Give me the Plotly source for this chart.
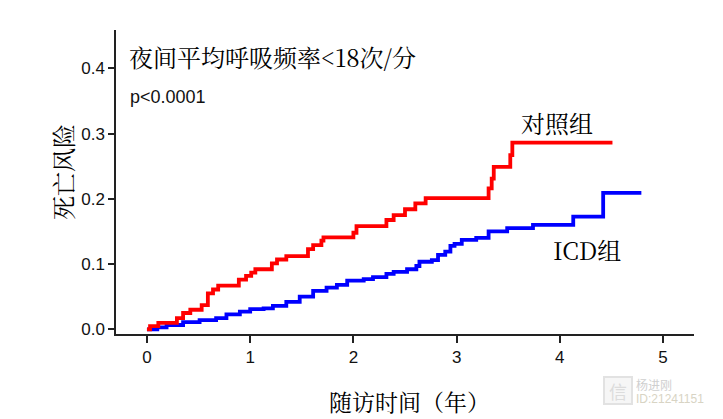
import plotly.graph_objects as go

# Control group (对照组) cumulative death risk, step function
red_t = [0, 0.03, 0.11, 0.29, 0.35, 0.42, 0.53, 0.59, 0.64, 0.69, 0.89, 0.96, 1.01, 1.05,
         1.21, 1.26, 1.35, 1.56, 1.61, 1.69, 1.71, 2.00, 2.03, 2.32, 2.39, 2.50, 2.60, 2.70,
         3.31, 3.34, 3.36, 3.52, 3.54, 4.51]
red_v = [0, 0.005, 0.010, 0.017, 0.025, 0.030, 0.037, 0.055, 0.061, 0.067, 0.076, 0.082, 0.087,
         0.092, 0.101, 0.107, 0.112, 0.123, 0.129, 0.136, 0.141, 0.148, 0.158, 0.1675, 0.175,
         0.184, 0.193, 0.201, 0.216, 0.231, 0.249, 0.267, 0.286, 0.286]

# ICD group (ICD组)
blue_t = [0, 0.10, 0.19, 0.35, 0.51, 0.67, 0.77, 0.90, 1.00, 1.13, 1.22, 1.35, 1.48, 1.61,
          1.74, 1.84, 1.94, 2.10, 2.19, 2.32, 2.39, 2.52, 2.61, 2.64, 2.76, 2.82, 2.89, 2.94,
          2.98, 3.05, 3.19, 3.31, 3.49, 3.74, 4.13, 4.42, 4.79]
blue_v = [0, 0.003, 0.0066, 0.011, 0.014, 0.017, 0.023, 0.027, 0.031, 0.032, 0.036, 0.042,
          0.050, 0.059, 0.064, 0.068, 0.0745, 0.077, 0.080, 0.085, 0.088, 0.092, 0.097, 0.1035,
          0.106, 0.114, 0.119, 0.128, 0.131, 0.137, 0.140, 0.150, 0.155, 0.160, 0.1726, 0.209,
          0.209]

x_ticks = [0, 1, 2, 3, 4, 5]
y_ticks = [0.0, 0.1, 0.2, 0.3, 0.4]
y_tick_labels = ["0.0", "0.1", "0.2", "0.3", "0.4"]

CJK = "Noto Serif CJK SC, Noto Sans CJK SC, serif"
SANS = "Liberation Sans, Arial, sans-serif"

# page has an 8px body margin; work in page pixels and shift
OFF = 8
W, H = 723 - OFF, 419 - OFF
L, R, T, B = 116 - OFF, 29, 30 - OFF, 85
pw, ph = W - L - R, H - T - B

def px(x):
    return (x - OFF - L) / pw

def py(y):
    return (H - B - (y - OFF)) / ph

fig = go.Figure()
fig.add_trace(go.Scatter(x=blue_t, y=blue_v, mode="lines", line_shape="hv",
                         line=dict(color="#0000ff", width=3.8), showlegend=False))
fig.add_trace(go.Scatter(x=red_t, y=red_v, mode="lines", line_shape="hv",
                         line=dict(color="#ff0000", width=3.8), showlegend=False))

fig.update_layout(
    width=W, height=H,
    margin=dict(l=L, r=R, t=T, b=B, autoexpand=False),
    paper_bgcolor="white", plot_bgcolor="white",
    xaxis=dict(range=[-0.30, 5.30], tickvals=x_ticks, showgrid=False, zeroline=False,
               automargin=False,
               showline=True, linecolor="#222", linewidth=1.5,
               ticks="outside", ticklen=7, tickwidth=1.5, tickcolor="#222",
               tickfont=dict(family=SANS, size=17, color="#111")),
    yaxis=dict(range=[-0.0072, 0.4587], tickvals=y_ticks, ticktext=y_tick_labels,
               showgrid=False, zeroline=False, automargin=False,
               showline=True, linecolor="#222", linewidth=1.5,
               ticks="outside", ticklen=6, tickwidth=1.5, tickcolor="#222",
               tickfont=dict(family=SANS, size=17, color="#111")),
)

def ann(text, x, y, size, family=CJK, color="#000", xanchor="left", angle=0):
    fig.add_annotation(text=text, x=px(x), y=py(y), xref="paper", yref="paper",
                       showarrow=False, xanchor=xanchor, yanchor="middle", textangle=angle,
                       borderpad=0,
                       font=dict(family=family, size=size, color=color))

ann("夜间平均呼吸频率<18次/分", 128, 57, 24)
ann("p<0.0001", 129, 97, 18, family=SANS, color="#111")
ann("对照组", 557, 122, 24, xanchor="center")
ann("ICD组", 587, 249, 24, xanchor="center")
ann("随访时间（年）", 409, 401, 23, xanchor="center")
ann("死亡风险", 62, 172, 24, xanchor="center", angle=-90)

# faint watermark
fig.add_shape(type="rect", xref="paper", yref="paper", x0=px(604), x1=px(632), y0=py(404), y1=py(377),
              line=dict(color="#e2e2e2", width=2), fillcolor="#f6f6f6")
ann("信", 618, 391, 18, family="Noto Sans CJK SC", color="#dcdcdc", xanchor="center")
ann("杨进刚", 635, 385, 12, family="Noto Sans CJK SC", color="#cfcfcf")
ann("ID:21241151", 635, 399, 12, family=SANS, color="#d8d4c4")

fig.write_html("out.html")
